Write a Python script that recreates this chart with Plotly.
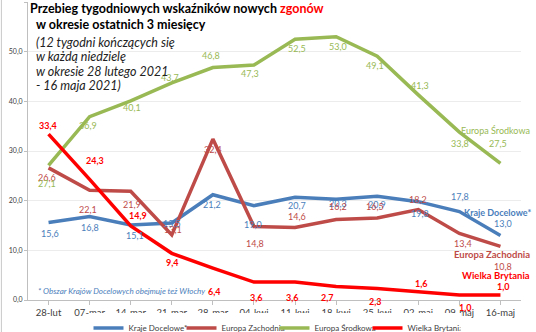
import plotly.graph_objects as go

categories = ["28-lut", "07-mar", "14-mar", "21-mar", "28-mar", "04-kwi",
              "11-kwi", "18-kwi", "25-kwi", "02-maj", "09-maj", "16-maj"]
kraje_docelowe = [15.6, 16.8, 15.1, 15.5, 21.2, 19.0, 20.7, 20.3, 20.9, 19.8, 17.8, 13.0]
europa_zachodnia = [26.6, 22.1, 21.9, 13.1, 32.4, 14.8, 14.6, 16.2, 16.5, 18.2, 13.4, 10.8]
europa_srodkowa = [27.1, 36.9, 40.1, 43.7, 46.8, 47.3, 52.5, 53.0, 49.1, 41.3, 33.8, 27.5]
wielka_brytania = [33.4, 24.3, 14.9, 9.4, 6.4, 3.6, 3.6, 2.7, 2.3, 1.6, 1.0, 1.0]

subtitle_lines = ["(12 tygodni kończących się", "w każdą niedzielę",
                  "w okresie 28 lutego 2021", "- 16 maja 2021)"]

C_BLUE = "#4a7ebb"
C_BROWN = "#be4b48"
C_GREEN = "#98b954"
C_RED = "#ff0000"
FONT = "Lato"

# label offsets in pixels (dx right, dy down) for each point
off_blue = [(1, 11), (0, 11), (4, 10), (0, 0), (-1, 10), (-1, 19), (2, 8), (2, 4), (0, 8), (2, 12), (1, -15), (3, -12)]
off_brown = [(-2, 10), (-2, 19), (1, 13), (1, -5), (0, 10), (1, 17), (2, -11), (2, -13), (-2, -12), (0, -10), (4, 10), (3, 20)]
off_green = [(-2, 18), (-2, 9), (1, 7), (-2, -5), (-2, -12), (-4, 8), (2, 9), (2, 10), (-2, 9), (2, -9), (1, 11), (-2, -20)]
off_red = [(-1, -9), (5, -19), (7, -11), (1, 9), (2, 23), (3, 15), (-3, 15), (-9, 11), (-2, 13), (3, -9), (6, 12), (3, -9)]

fig = go.Figure()
annos = []

def add(name, vals, color, offs, bold=False):
    fig.add_trace(go.Scatter(
        x=categories, y=vals, name=name, mode="lines",
        line=dict(color=color, width=3.5),
        hoverinfo="x+y",
    ))
    for c, v, (dx, dy) in zip(categories, vals, offs):
        t = f"{v:.1f}".replace(".", ",")
        if bold:
            t = f"<b>{t}</b>"
        annos.append(dict(x=c, y=v, xref="x", yref="y", text=t, showarrow=False,
                          xshift=dx, yshift=-dy,
                          font=dict(size=9, color=color, family=FONT)))

add("Kraje Docelowe*", kraje_docelowe, C_BLUE, off_blue)
add("Europa Zachodnia", europa_zachodnia, C_BROWN, off_brown)
add("Europa Środkowa", europa_srodkowa, C_GREEN, off_green)
add("Wielka Brytania", wielka_brytania, C_RED, off_red, bold=True)

annos += [
    dict(x=0, y=1.0, xref="paper", yref="paper", xanchor="left", yanchor="middle",
         xshift=0, yshift=-6, align="left",
         text="<b>Przebieg tygodniowych wskaźników nowych <span style='color:#ff0000'>zgonów</span></b>",
         font=dict(size=12.5, color="#000000", family=FONT), showarrow=False),
    dict(x=0, y=1.0, xref="paper", yref="paper", xanchor="left", yanchor="middle",
         xshift=6, yshift=-22, align="left",
         text="<b>w okresie ostatnich 3 miesięcy</b>",
         font=dict(size=12.5, color="#000000", family=FONT), showarrow=False),
]
for i, line in enumerate(subtitle_lines):
    annos.append(dict(x=0, y=1.0, xref="paper", yref="paper", xanchor="left", yanchor="middle",
                      xshift=6, yshift=-(40 + 14.5 * i), align="left",
                      text=f"<i>{line}</i>",
                      font=dict(size=12.5, color="#222222", family=FONT), showarrow=False))

annos += [
    dict(x=0, y=0, xref="paper", yref="paper", xanchor="left", yanchor="middle",
         xshift=8, yshift=9, align="left",
         text="<i>* Obszar Krajów Docelowych obejmuje też Włochy</i>",
         font=dict(size=8, color=C_BLUE, family=FONT), showarrow=False),
    dict(x=1.0, y=34.2, xref="paper", yref="y", xanchor="right", yanchor="middle",
         xshift=11, align="right", text="Europa Środkowa",
         font=dict(size=9, color=C_GREEN, family=FONT), showarrow=False),
    dict(x=1.0, y=17.7, xref="paper", yref="y", xanchor="right", yanchor="middle",
         xshift=12, align="right", text="<b>Kraje Docelowe*</b>",
         font=dict(size=9, color=C_BLUE, family=FONT), showarrow=False),
    dict(x=1.0, y=9.1, xref="paper", yref="y", xanchor="right", yanchor="middle",
         xshift=11, align="right", text="<b>Europa Zachodnia</b>",
         font=dict(size=9.5, color=C_BROWN, family=FONT), showarrow=False),
    dict(x=1.0, y=5.0, xref="paper", yref="y", xanchor="right", yanchor="middle",
         xshift=11, align="right", text="<b>Wielka Brytania</b>",
         font=dict(size=9.5, color=C_RED, family=FONT), showarrow=False),
]

fig.update_layout(
    width=536, height=332,
    margin=dict(l=28, r=15, t=2, b=32, autoexpand=False),
    paper_bgcolor="white", plot_bgcolor="white",
    separators=", ",
    font=dict(family=FONT, color="#404040"),
    showlegend=True,
    legend=dict(orientation="h", x=0.5, xanchor="center", y=-0.045, yanchor="top",
                font=dict(size=8, color="#404040"), itemwidth=30,
                entrywidth=48, entrywidthmode="pixels", tracegroupgap=0),
    annotations=annos,
    shapes=[dict(type="line", xref="paper", yref="paper", x0=-0.054, x1=-0.054,
                 y0=-0.12, y1=1.01, line=dict(color="#c8c8c8", width=1))],
    xaxis=dict(type="category", showgrid=False, showline=True, linecolor="#bfbfbf",
               ticks="outside", tickcolor="#bfbfbf", ticklen=4,
               tickfont=dict(size=9.5, color="#404040"), range=[-0.5, 11.5]),
    yaxis=dict(range=[0, 60], dtick=10, tickformat=".1f", showgrid=True,
               gridcolor="#ececec", zeroline=False, showline=True, linecolor="#bfbfbf",
               tickfont=dict(size=7, color="#404040"), ticks="outside",
               tickcolor="#bfbfbf", ticklen=3),
)

fig.write_html("out.html")
